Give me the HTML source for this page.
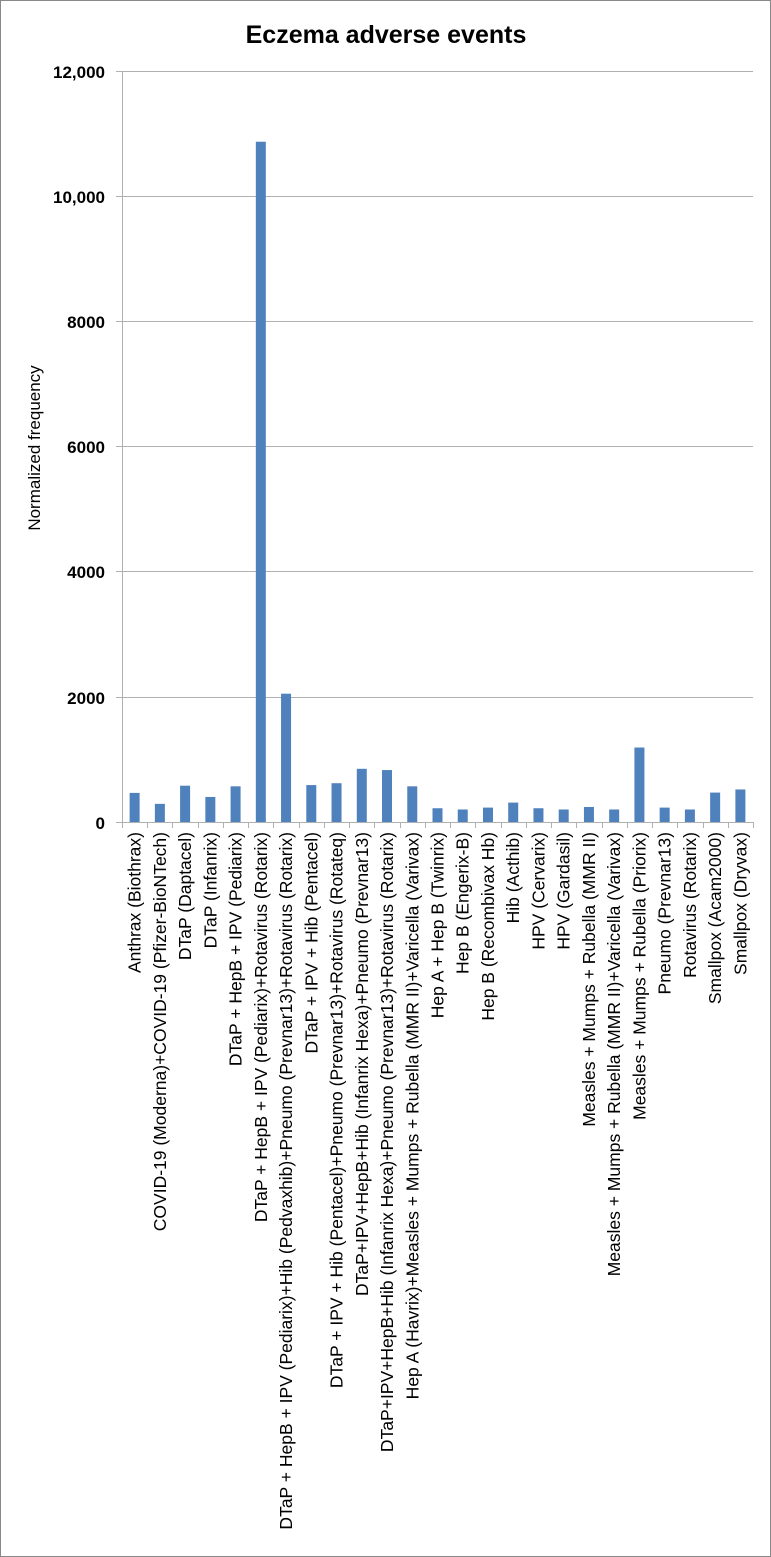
<!DOCTYPE html>
<html><head><meta charset="utf-8"><style>
body{margin:0;background:#fff}
svg{display:block}
text{font-family:"Liberation Sans",sans-serif}
</style></head><body>
<svg width="771" height="1557" viewBox="0 0 771 1557" xmlns="http://www.w3.org/2000/svg">
<rect x="0.5" y="0.5" width="770" height="1556" fill="#fff" stroke="#888"/>
<text x="386" y="43" text-anchor="middle" font-size="25" font-weight="bold">Eczema adverse events</text>
<g stroke="#b0b0b0" stroke-width="1">
<line x1="116" y1="71.5" x2="753" y2="71.5"/>
<line x1="116" y1="196.5" x2="753" y2="196.5"/>
<line x1="116" y1="321.5" x2="753" y2="321.5"/>
<line x1="116" y1="446.5" x2="753" y2="446.5"/>
<line x1="116" y1="571.5" x2="753" y2="571.5"/>
<line x1="116" y1="697.5" x2="753" y2="697.5"/>
<line x1="116" y1="822.5" x2="753" y2="822.5"/>
<line x1="122.5" y1="71" x2="122.5" y2="822"/>
</g>
<g font-size="17" font-weight="bold" text-anchor="end">
<text x="105" y="78">12,000</text>
<text x="105" y="203">10,000</text>
<text x="105" y="328">8000</text>
<text x="105" y="453">6000</text>
<text x="105" y="578">4000</text>
<text x="105" y="704">2000</text>
<text x="105" y="829">0</text>
</g>
<text transform="translate(40,448) rotate(-90)" text-anchor="middle" font-size="17">Normalized frequency</text>
<g id="bars" fill="#4f81bd"></g>
<g id="ticks" stroke="#b0b0b0"></g>
<g id="labels" font-size="17.5" text-anchor="end"></g>
</svg>
<script>
var names=["Anthrax (Biothrax)","COVID-19 (Moderna)+COVID-19 (Pfizer-BioNTech)","DTaP (Daptacel)","DTaP (Infanrix)","DTaP + HepB + IPV (Pediarix)","DTaP + HepB + IPV (Pediarix)+Rotavirus (Rotarix)","DTaP + HepB + IPV (Pediarix)+Hib (Pedvaxhib)+Pneumo (Prevnar13)+Rotavirus (Rotarix)","DTaP + IPV + Hib (Pentacel)","DTaP + IPV + Hib (Pentacel)+Pneumo (Prevnar13)+Rotavirus (Rotateq)","DTaP+IPV+HepB+Hib (Infanrix Hexa)+Pneumo (Prevnar13)","DTaP+IPV+HepB+Hib (Infanrix Hexa)+Pneumo (Prevnar13)+Rotavirus (Rotarix)","Hep A (Havrix)+Measles + Mumps + Rubella (MMR II)+Varicella (Varivax)","Hep A + Hep B (Twinrix)","Hep B (Engerix-B)","Hep B (Recombivax Hb)","Hib (Acthib)","HPV (Cervarix)","HPV (Gardasil)","Measles + Mumps + Rubella (MMR II)","Measles + Mumps + Rubella (MMR II)+Varicella (Varivax)","Measles + Mumps + Rubella (Priorix)","Pneumo (Prevnar13)","Rotavirus (Rotarix)","Smallpox (Acam2000)","Smallpox (Dryvax)"];
var vals=[465,290,580,400,570,10870,2050,590,620,850,830,570,220,200,230,310,220,200,240,200,1190,230,200,470,520];
var ns="http://www.w3.org/2000/svg",b=document.getElementById("bars"),t=document.getElementById("ticks"),l=document.getElementById("labels");
var x0=122,w=25.24,y0=822,s=751/12000;
for(var i=0;i<25;i++){var cx=x0+w*(i+0.5),h=vals[i]*s;
var r=document.createElementNS(ns,"rect");r.setAttribute("x",cx-5);r.setAttribute("y",y0-h);r.setAttribute("width",10);r.setAttribute("height",h);b.appendChild(r);
var tl=document.createElementNS(ns,"line");var tx=Math.round(x0+w*i)+0.5;tl.setAttribute("x1",tx);tl.setAttribute("x2",tx);tl.setAttribute("y1",822);tl.setAttribute("y2",828);t.appendChild(tl);
var tt=document.createElementNS(ns,"text");tt.setAttribute("transform","translate("+(cx+6)+",832) rotate(-90)");tt.textContent=names[i];l.appendChild(tt);}
var tl=document.createElementNS(ns,"line");tl.setAttribute("x1",753.5);tl.setAttribute("x2",753.5);tl.setAttribute("y1",822);tl.setAttribute("y2",828);t.appendChild(tl);
</script>
</body></html>
